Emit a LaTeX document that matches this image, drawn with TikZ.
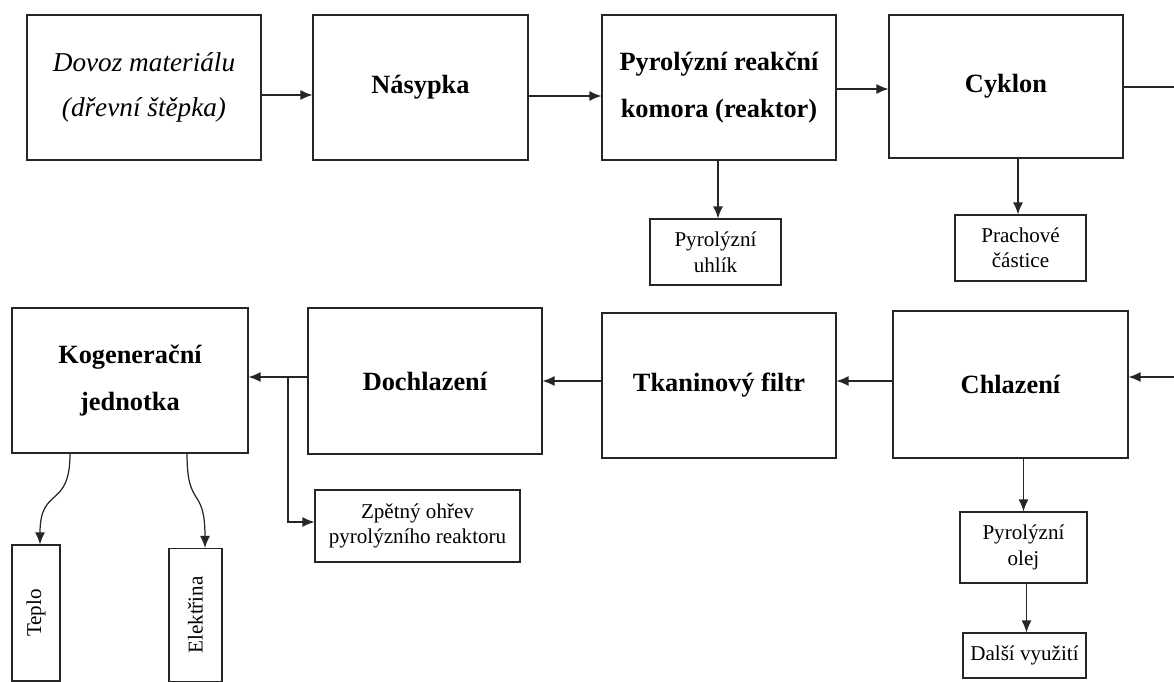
\documentclass[tikz,border=0pt]{standalone}
\usepackage{fontspec}
\setmainfont{Liberation Serif}
\usetikzlibrary{positioning,arrows.meta,calc}
\tikzset{
  proc box/.style={
    draw=black!85,
    line width=0.7pt,
    align=center,
    inner sep=2pt
  },
  proc main/.style={proc box, minimum width=4.68cm, minimum height=2.9cm,
    font=\fontsize{15}{26.6}\selectfont\bfseries},
  proc small/.style={proc box, font=\fontsize{12}{15}\selectfont},
  proc out/.style={proc box, font=\fontsize{12}{14}\selectfont, rotate=90},
  proc arrow/.style={-{Latex[length=2.4mm,width=2mm]}, line width=0.7pt, black!85},
  proc line/.style={line width=0.7pt, black!85}
}

\begin{document}
\begin{tikzpicture}[x=0.02cm,y=-0.02cm]
\useasboundingbox (0,0) rectangle (1174,682);
% horni rada
\node[proc main, font=\fontsize{15.5}{25.5}\selectfont\itshape] (dovoz) at (144,87.5) {Dovoz materiálu\\(dřevní štěpka)};
\node[proc main, minimum width=4.3cm] (nasypka) at (420.5,87.5) {Násypka};
\node[proc main] (reaktor) at (719,87.5) {Pyrolýzní reakční\\komora (reaktor)};
\node[proc main, minimum height=2.86cm] (cyklon) at (1006,86.5) {Cyklon};
\node[proc small, minimum width=2.62cm, minimum height=1.32cm] (uhlik) at (715.5,252) {Pyrolýzní\\uhlík};
\node[proc small, minimum width=2.62cm, minimum height=1.32cm, font=\fontsize{12}{14.5}\selectfont] (prach) at (1020.5,248) {Prachové\\částice};
% dolni rada
\node[proc main, minimum width=4.7cm, minimum height=2.94cm] (chlaz) at (1010.5,384.5) {Chlazení};
\node[proc main] (filtr) at (719,385.5) {Tkaninový filtr};
\node[proc main, minimum height=2.92cm] (dochlaz) at (425,381) {Dochlazení};
\node[proc main, minimum width=4.72cm] (kogen) at (130,380.5) {Kogenerační\\jednotka};
\node[proc small, minimum width=4.1cm, minimum height=1.44cm, font=\fontsize{12}{14}\selectfont] (zpet) at (417.5,526) {Zpětný ohřev\\pyrolýzního reaktoru};
\node[proc small, minimum width=2.54cm, minimum height=1.42cm] (olej) at (1023.5,547.5) {Pyrolýzní\\olej};
\node[proc small, minimum width=2.46cm, minimum height=0.9cm] (dalsi) at (1024.5,655.5) {Další využití};
\node[proc out, minimum width=2.72cm, minimum height=0.96cm] (teplo) at (36,613) {Teplo};
\node[proc out, minimum width=2.66cm, minimum height=1.06cm] (elektr) at (195.5,615) {Elektřina};
% volne konce na pravem okraji
\coordinate (outR) at (1174,87);
\coordinate (inR) at (1174,377);
\coordinate (odboc) at (288,377);
% spojnice
\draw[proc arrow] (dovoz.east |- 0,95) -- (nasypka.west |- 0,95);
\draw[proc arrow] (nasypka.east |- 0,96) -- (reaktor.west |- 0,96);
\draw[proc arrow] (reaktor.east |- 0,89) -- (cyklon.west |- 0,89);
\draw[proc line] (cyklon.east |- outR) -- (outR);
\draw[proc arrow] (reaktor.south -| 718,0) -- (uhlik.north -| 718,0);
\draw[proc arrow] (cyklon.south -| 1018,0) -- (prach.north -| 1018,0);
\draw[proc arrow] (inR) -- (chlaz.east |- inR);
\draw[proc arrow] (chlaz.west |- 0,381) -- (filtr.east |- 0,381);
\draw[proc arrow] (filtr.west |- 0,381) -- (dochlaz.east |- 0,381);
\draw[proc arrow] (dochlaz.west |- odboc) -- (kogen.east |- odboc);
\draw[proc arrow] (odboc) |- ([yshift=0.08cm]zpet.west);
\draw[proc arrow] (olej.north |- chlaz.south) -- (olej.north);
\draw[proc arrow] ([xshift=0.06cm]olej.south) -- ([xshift=0.06cm]olej.south |- dalsi.north);
\draw[proc arrow] (kogen.south -| 70,0) .. controls (70,510) and (40,485) .. (teplo.east -| 40,0);
\draw[proc arrow] (kogen.south -| 187,0) .. controls (187,510) and (205,485) .. (elektr.east -| 205,0);
\end{tikzpicture}
\end{document}
